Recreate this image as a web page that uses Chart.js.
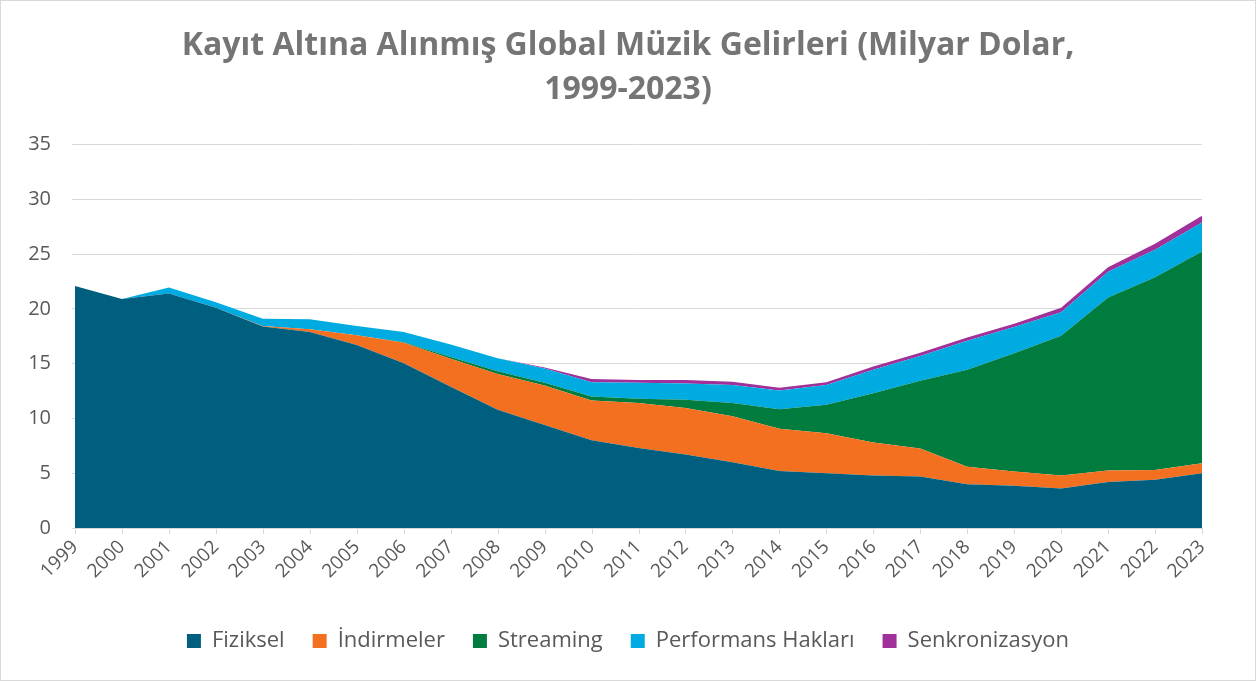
<!DOCTYPE html>
<html lang="tr">
<head>
<meta charset="utf-8">
<title>Kayıt Altına Alınmış Global Müzik Gelirleri</title>
<script src="https://cdn.jsdelivr.net/npm/chart.js@4.4.1/dist/chart.umd.min.js"></script>
<style>
  html, body { margin: 0; padding: 0; background: #fff; }
  #wrap { width: 1256px; height: 681px; position: relative; box-sizing: border-box; border: 1px solid #d9d9d9; }
  canvas { display: block; }
</style>
</head>
<body>
<div id="wrap"><canvas id="music-chart" width="1254" height="679"></canvas></div>
<script>
const years = ['1999', '2000', '2001', '2002', '2003', '2004', '2005', '2006', '2007', '2008', '2009', '2010',
  '2011', '2012', '2013', '2014', '2015', '2016', '2017', '2018', '2019', '2020', '2021', '2022', '2023'];

const fiziksel = [22.1, 20.9, 21.4, 20.1, 18.4, 17.9, 16.7, 15.05, 12.9, 10.8, 9.4, 8.0,
  7.3, 6.7, 6.0, 5.2, 5.0, 4.8, 4.7, 4.0, 3.85, 3.6, 4.2, 4.4, 5.0];
const indirmeler = [0, 0, 0, 0, 0.05, 0.25, 0.9, 1.85, 2.55, 3.25, 3.6, 3.65,
  4.1, 4.25, 4.2, 3.85, 3.65, 3.0, 2.55, 1.6, 1.3, 1.2, 1.05, 0.9, 0.9];
const streaming = [0, 0, 0, 0, 0, 0, 0, 0.05, 0.15, 0.25, 0.25, 0.35,
  0.4, 0.75, 1.2, 1.8, 2.6, 4.5, 6.2, 8.85, 10.8, 12.75, 15.8, 17.6, 19.35];
const performans = [0, 0, 0.55, 0.5, 0.65, 0.9, 0.85, 0.95, 1.15, 1.2, 1.3, 1.3,
  1.45, 1.5, 1.65, 1.7, 1.8, 2.15, 2.25, 2.65, 2.4, 2.15, 2.35, 2.5, 2.65];
const senkronizasyon = [0, 0, 0, 0, 0, 0, 0, 0, 0, 0, 0.1, 0.3,
  0.25, 0.3, 0.3, 0.25, 0.25, 0.3, 0.3, 0.3, 0.3, 0.4, 0.4, 0.55, 0.6];

const yTicks = [0, 5, 10, 15, 20, 25, 30, 35];

function area(label, data, color, fill) {
  return {
    label: label,
    data: data,
    backgroundColor: color,
    borderColor: color,
    borderWidth: 0,
    pointRadius: 0,
    pointHoverRadius: 0,
    tension: 0,
    fill: fill
  };
}

// small ticks under the x axis at every category
const axisTicks = {
  id: 'axisTicks',
  afterDraw(chart) {
    const xs = chart.scales.x;
    const c = chart.ctx;
    const bottom = chart.chartArea.bottom;
    c.save();
    c.strokeStyle = '#d9d9d9';
    c.lineWidth = 1;
    years.forEach((y, i) => {
      const px = Math.round(xs.getPixelForValue(i)) + 0.5;
      c.beginPath();
      c.moveTo(px, bottom);
      c.lineTo(px, bottom + 6);
      c.stroke();
    });
    c.restore();
  }
};

const ctx = document.getElementById('music-chart').getContext('2d');
const musicChart = new Chart(ctx, {
  type: 'line',
  data: {
    labels: years,
    datasets: [
      area('Fiziksel', fiziksel, '#005E7E', 'origin'),
      area('İndirmeler', indirmeler, '#F37021', '-1'),
      area('Streaming', streaming, '#007C3E', '-1'),
      area('Performans Hakları', performans, '#00ABE1', '-1'),
      area('Senkronizasyon', senkronizasyon, '#A2309B', '-1')
    ]
  },
  plugins: [axisTicks],
  options: {
    responsive: false,
    animation: false,
    devicePixelRatio: 1,
    layout: { padding: { left: 0, right: 0, top: 0, bottom: 18 } },
    plugins: {
      title: {
        display: true,
        text: ['Kayıt Altına Alınmış Global Müzik Gelirleri (Milyar Dolar,', '1999-2023)'],
        color: '#757575',
        font: { family: 'Open Sans', size: 32, weight: 'bold', lineHeight: 1.4 },
        padding: { top: 22, bottom: 32 }
      },
      legend: {
        position: 'bottom',
        labels: {
          color: '#595959',
          font: { family: 'Open Sans', size: 22 },
          boxWidth: 14,
          boxHeight: 14,
          padding: 28
        }
      },
      tooltip: { enabled: false }
    },
    scales: {
      x: {
        offset: false,
        grid: { display: false, drawTicks: true, tickLength: 6 },
        border: { display: true, color: '#d9d9d9' },
        ticks: {
          color: '#595959',
          font: { family: 'Open Sans', size: 19 },
          minRotation: 45,
          maxRotation: 45,
          autoSkip: false,
          padding: 2
        },
        afterFit: function (scale) { scale.height = 74; }
      },
      y: {
        stacked: true,
        min: 0,
        max: 35,
        afterBuildTicks: function (scale) { scale.ticks = yTicks.map(v => ({ value: v })); },
        grid: { color: '#d9d9d9', tickLength: 3 },
        border: { display: false },
        ticks: {
          color: '#595959',
          font: { family: 'Open Sans', size: 20 },
          padding: 21
        },
        afterFit: function (scale) { scale.width = 74; }
      },
      // empty right-hand axis: keeps the plot clear of the right edge while title and legend stay centred
      spacer: {
        type: 'linear',
        position: 'right',
        display: true,
        grid: { display: false, drawTicks: false },
        border: { display: false },
        ticks: { display: false },
        afterFit: function (scale) { scale.width = 53; }
      }
    }
  }
});
</script>
</body>
</html>
